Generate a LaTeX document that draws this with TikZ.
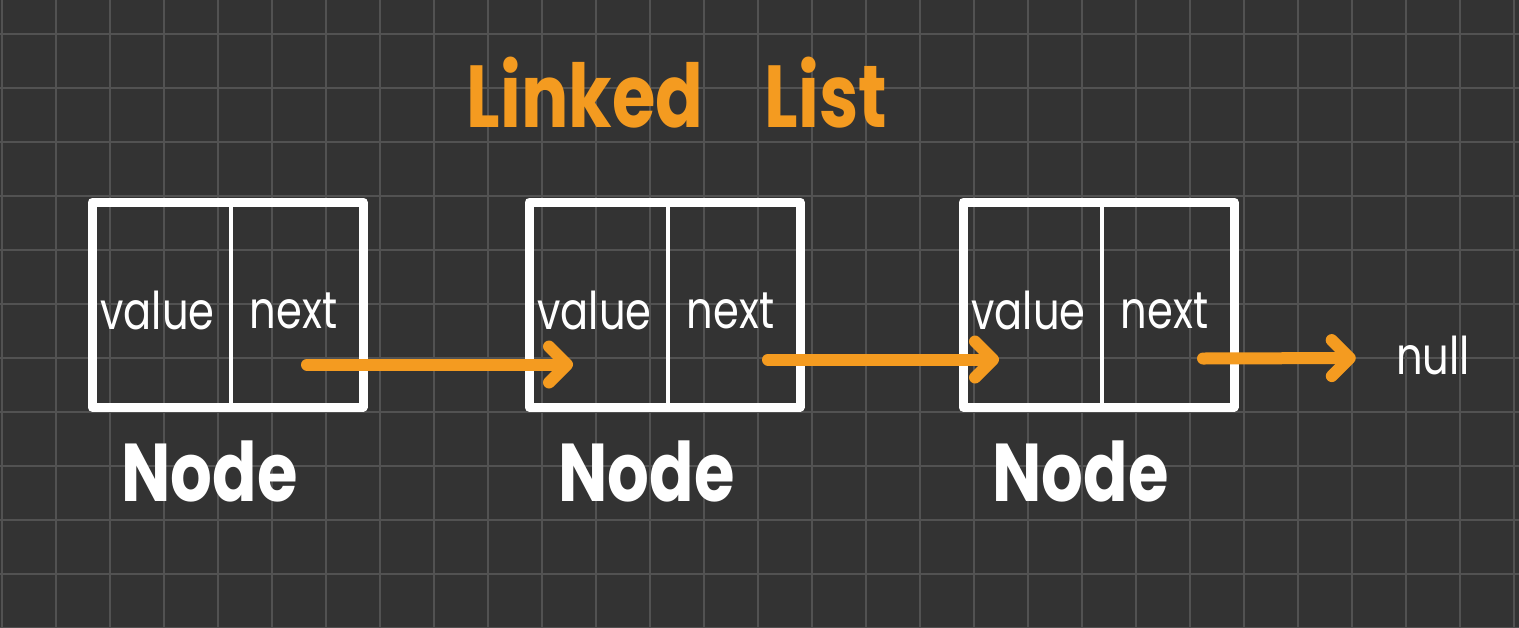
\documentclass[tikz,border=0pt]{standalone}
\usepackage{fontspec}
\usepackage{tikz}
\usetikzlibrary{arrows.meta, positioning}
\newfontfamily\handfont{Poppins}[FakeStretch=0.8]
\definecolor{boardbg}{HTML}{333333}
\definecolor{boardgrid}{HTML}{525252}
\definecolor{chalkorange}{HTML}{F49B20}

\tikzset{
  cell/.style={draw=white, line width=4.5pt, line join=round,
    minimum width=135.5pt, minimum height=102.5pt,
    inner sep=0pt, outer sep=0pt},
  divider/.style={draw=white, line width=2pt, line cap=round},
  field/.style={text=white, inner sep=0pt,
    font=\handfont\fontsize{26pt}{30pt}\selectfont},
  caption/.style={text=white, inner sep=0pt,
    font=\handfont\bfseries\fontsize{41pt}{46pt}\selectfont},
  link/.style={draw=chalkorange, line width=6pt, line cap=round,
    -{Straight Barb[length=9pt, width=18pt, round]}},
}

\begin{document}
\begin{tikzpicture}[x=0.5pt, y=-0.5pt]
  % board
  \fill[boardbg] (0,0) rectangle (1519,627);
  \useasboundingbox (0,0) rectangle (1519,627);
  \foreach \i in {0,...,28}
    \draw[boardgrid, line width=1pt] ({1.7+54*\i},0) -- ++(0,627);
  \foreach \j in {0,...,11}
    \draw[boardgrid, line width=1pt] (0,{33.5+54*\j}) -- ++(1519,0);

  \node[text=chalkorange, inner sep=0pt,
    font=\handfont\bfseries\fontsize{44pt}{50pt}\selectfont]
    (title) at (677,93) {Linked\hspace{0.7em}List};

  % nodes of the list
  \node[cell] (box1) at (227.5,304.5) {};
  \node[cell, right=83pt of box1] (box2) {};
  \node[cell, right=81.5pt of box2] (box3) {};
  \foreach \b in {box1,box2,box3} {
    \draw[divider] ([xshift=1.5pt]\b.north) -- ([xshift=1.5pt,yshift=2pt]\b.south);
    \node[field] (\b-value) at ([xshift=-35pt,yshift=-3pt]\b.center) {value};
    \node[field] (\b-next) at ([xshift=33pt,yshift=-3pt]\b.center) {next};
    \node[caption, below=16.5pt of \b, xshift=-9pt] (\b-label) {Node};
  }
  \node[field] (null) at (1433,355) {null};

  % links
  \draw[link] ([xshift=-28pt,yshift=-30pt]box1.east) -- ([xshift=22pt,yshift=-30pt]box2.west);
  \draw[link] ([xshift=-16pt,yshift=-27.5pt]box2.east) -- ([xshift=18pt,yshift=-27.5pt]box3.west);
  \draw[link] ([xshift=-15.5pt,yshift=-27pt]box3.east) -- ([xshift=-20pt,yshift=-1.5pt]null.west);
\end{tikzpicture}
\end{document}
